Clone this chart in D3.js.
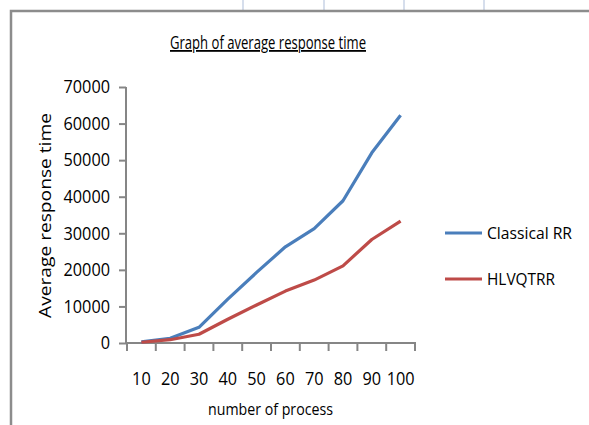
<!DOCTYPE html>
<html>
<head>
<meta charset="utf-8">
<script src="https://cdn.jsdelivr.net/npm/d3@7"></script>
<style>
  body { margin: 0; background: #fff; }
  svg text { font-family: "Open Sans", sans-serif; fill: #000; }
</style>
</head>
<body>
<div id="chart"></div>
<script>
const processes = ["10", "20", "30", "40", "50", "60", "70", "80", "90", "100"];
const classicalRR = [300, 1300, 4300, 12000, 19300, 26300, 31300, 38900, 52000, 62300];
const hlvqtrr = [200, 900, 2400, 6500, 10400, 14200, 17200, 21100, 28300, 33300];
const yTicks = [0, 10000, 20000, 30000, 40000, 50000, 60000, 70000];
const seriesNames = ["Classical RR", "HLVQTRR"];
const colors = ["#4a7ebb", "#be4b48"];

const width = 589;
const height = 425;
const digitW = 9.3; // narrow Calibri-like digits

const svg = d3.select("#chart")
    .append("svg")
    .attr("width", width)
    .attr("height", height);

// spreadsheet grid peeking above the chart box
svg.selectAll(".cell")
    .data([243, 324, 404, 484])
    .enter()
    .append("line")
    .attr("x1", d => d).attr("x2", d => d)
    .attr("y1", 0).attr("y2", 10)
    .attr("stroke", "#c9d3e6")
    .attr("stroke-width", 1.5);

// chart frame
svg.append("path")
    .attr("d", "M11,425 V11 H589")
    .attr("fill", "none")
    .attr("stroke", "#8c8c8c")
    .attr("stroke-width", 2.5);

// title (squeezed to the original width)
svg.append("text")
    .attr("x", 170)
    .attr("y", 49)
    .attr("font-size", 18)
    .attr("textLength", 196)
    .attr("lengthAdjust", "spacingAndGlyphs")
    .attr("text-decoration", "underline")
    .text("Graph of average response time");

var x = d3.scaleBand()
    .domain(processes)
    .range([127, 415]);

var y = d3.scaleLinear()
    .domain([0, 70000])
    .range([343, 87]);

// y axis
const yAxis = svg.append("g")
    .attr("transform", "translate(126,0)")
    .call(d3.axisLeft(y).tickValues(yTicks).tickSize(7).tickPadding(9).tickFormat(d3.format("d")));
yAxis.selectAll("line, path").attr("stroke", "#868686").attr("stroke-width", 2);
yAxis.select(".domain").attr("d", "M0,87V343");
yAxis.selectAll("text")
    .attr("font-size", 18)
    .attr("fill", "#000")
    .attr("textLength", d => String(d).length * digitW)
    .attr("lengthAdjust", "spacingAndGlyphs")
    .style("font-family", "'Open Sans', sans-serif");

// x axis with ticks between categories
const xAxis = svg.append("g")
    .attr("transform", "translate(0,343)");
xAxis.append("line")
    .attr("x1", 126).attr("x2", 416)
    .attr("stroke", "#868686").attr("stroke-width", 2);
const boundaries = processes.map(p => x(p)).concat([x.range()[1]]);
xAxis.selectAll(".xt")
    .data(boundaries)
    .enter()
    .append("line")
    .attr("x1", d => d).attr("x2", d => d)
    .attr("y1", 0).attr("y2", 8)
    .attr("stroke", "#868686").attr("stroke-width", 2);
xAxis.selectAll(".xl")
    .data(processes)
    .enter()
    .append("text")
    .attr("x", d => x(d) + x.bandwidth() / 2)
    .attr("y", 42)
    .attr("text-anchor", "middle")
    .attr("font-size", 18)
    .attr("textLength", d => d.length * digitW)
    .attr("lengthAdjust", "spacingAndGlyphs")
    .text(d => d);

// axis titles
svg.append("text")
    .attr("transform", "translate(51,318) rotate(-90)")
    .attr("font-size", 17)
    .attr("textLength", 205)
    .attr("lengthAdjust", "spacingAndGlyphs")
    .text("Average response time");

svg.append("text")
    .attr("x", 208)
    .attr("y", 415)
    .attr("font-size", 16)
    .attr("textLength", 125)
    .attr("lengthAdjust", "spacingAndGlyphs")
    .text("number of process");

// lines
const line = d3.line()
    .x((d, i) => x(processes[i]) + x.bandwidth() / 2)
    .y(d => y(d));

[classicalRR, hlvqtrr].forEach((vals, i) => {
    svg.append("path")
        .datum(vals)
        .attr("d", line)
        .attr("fill", "none")
        .attr("stroke", colors[i])
        .attr("stroke-width", 3.2)
        .attr("stroke-linejoin", "round");
});

// legend
const legend = svg.selectAll(".legend")
    .data(seriesNames)
    .enter()
    .append("g")
    .attr("transform", (d, i) => "translate(445," + (233 + i * 46) + ")");
legend.append("line")
    .attr("x1", 0).attr("x2", 37)
    .attr("stroke", (d, i) => colors[i])
    .attr("stroke-width", 3.2);
legend.append("text")
    .attr("x", 42)
    .attr("y", 6)
    .attr("font-size", 17)
    .attr("textLength", (d, i) => i === 0 ? 85 : 68)
    .attr("lengthAdjust", "spacingAndGlyphs")
    .text(d => d);
</script>
</body>
</html>
